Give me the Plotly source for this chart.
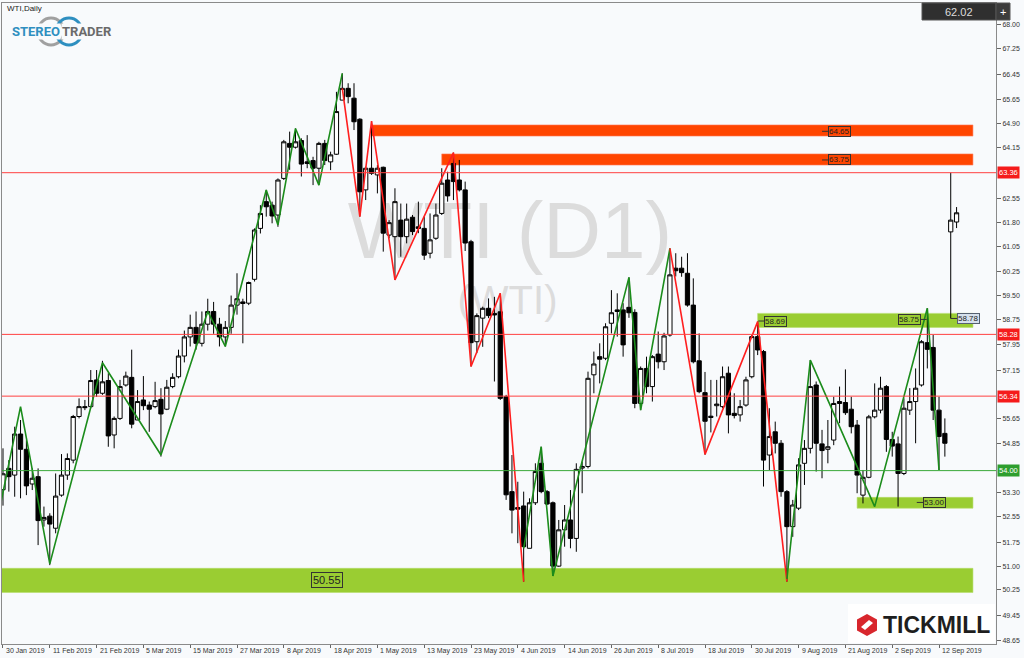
import plotly.graph_objects as go

# ---------------- DATA ----------------
bars = list(range(164))
opens = [53.40, 54.07, 53.86, 55.15, 54.67, 53.58, 53.81, 52.45, 52.57, 52.19,
         53.23, 53.86, 54.33, 55.70, 56.01, 56.01, 56.85, 56.43, 56.83, 55.12,
         55.64, 56.69, 56.93, 55.59, 56.22, 56.06, 56.01, 56.24, 55.93, 56.64,
         56.95, 57.60, 58.20, 58.50, 58.00, 58.60, 59.00, 58.60, 58.20, 58.50,
         59.20, 59.30, 59.26, 60.01, 61.61, 62.45, 62.34, 62.03, 63.18, 64.28,
         64.16, 64.37, 63.70, 63.74, 63.50, 64.28, 63.70, 63.94, 65.64, 66.01,
         65.70, 65.04, 62.82, 63.50, 63.29, 63.53, 61.40, 61.35, 61.87, 61.35,
         61.96, 61.66, 61.61, 60.83, 61.30, 62.08, 63.13, 63.65, 63.13, 62.82,
         61.19, 58.05, 58.79, 59.10, 58.94, 58.99, 56.32, 53.34, 52.84, 52.89,
         51.56, 52.99, 54.23, 53.34, 52.99, 51.00, 52.14, 52.45, 51.87, 54.08,
         54.13, 57.01, 57.58, 57.53, 58.63, 59.05, 59.05, 59.13, 58.97, 56.11,
         57.21, 56.64, 57.66, 57.42, 58.26, 60.36, 60.36, 60.20, 59.20, 57.45,
         56.45, 55.71, 56.04, 56.01, 57.06, 55.80, 55.75, 56.06, 56.95, 58.21,
         57.74, 54.49, 55.22, 54.86, 53.34, 52.24, 52.82, 54.23, 54.70, 56.69,
         54.84, 54.67, 54.96, 56.17, 56.14, 55.93, 55.43, 53.23, 53.79, 55.69,
         55.90, 56.64, 54.98, 54.84, 53.91, 55.90, 56.17, 56.69, 58.02, 57.87,
         55.90, 55.17, 61.50, 61.81]
highs = [54.70, 54.33, 55.38, 55.59, 54.96, 54.07, 54.07, 52.87, 52.66, 53.91,
         54.52, 54.54, 55.75, 56.27, 56.22, 57.16, 57.16, 57.45, 57.06, 55.70,
         56.85, 57.11, 57.80, 56.53, 56.97, 56.17, 56.79, 56.59, 56.85, 57.06,
         57.80, 58.40, 58.90, 59.00, 59.00, 59.40, 59.30, 58.80, 58.70, 59.50,
         60.20, 59.40, 59.94, 61.61, 62.34, 62.82, 62.45, 63.18, 64.39, 64.65,
         64.75, 64.44, 64.54, 63.86, 64.33, 64.39, 64.02, 65.90, 66.48, 66.17,
         66.17, 65.07, 63.55, 64.98, 63.60, 63.55, 61.87, 62.87, 62.39, 62.39,
         62.03, 62.45, 61.98, 62.08, 62.39, 63.50, 63.39, 63.99, 63.76, 63.08,
         61.25, 58.94, 59.15, 59.41, 59.46, 59.57, 56.38, 54.49, 53.65, 53.34,
         53.13, 54.23, 54.75, 53.39, 53.03, 52.45, 52.92, 53.39, 54.23, 54.28,
         57.11, 57.74, 58.00, 58.63, 59.67, 59.57, 59.26, 60.07, 59.07, 57.27,
         57.58, 57.63, 58.37, 58.33, 60.98, 60.83, 60.72, 60.83, 60.04, 58.31,
         57.10, 56.85, 56.85, 57.27, 57.27, 56.43, 56.22, 56.95, 58.26, 58.68,
         57.79, 55.96, 55.54, 54.96, 53.39, 53.08, 54.39, 54.96, 57.47, 56.80,
         55.28, 55.59, 56.32, 56.64, 57.18, 56.32, 55.59, 54.02, 55.75, 56.74,
         56.95, 56.69, 55.22, 55.07, 56.27, 56.59, 57.21, 58.10, 59.10, 58.26,
         56.32, 55.64, 63.36, 62.28]
lows = [52.90, 53.34, 53.18, 53.13, 53.23, 53.39, 51.66, 52.24, 51.03, 52.03,
        53.18, 53.71, 54.23, 55.64, 55.90, 55.96, 56.32, 56.38, 54.75, 54.70,
        55.59, 56.64, 55.33, 55.59, 55.90, 55.22, 55.96, 54.44, 55.90, 56.59,
        56.90, 57.40, 57.90, 57.80, 57.90, 58.40, 58.30, 57.90, 57.90, 58.30,
        58.90, 58.00, 59.20, 59.94, 61.45, 61.98, 61.77, 61.66, 63.13, 63.45,
        64.12, 63.24, 63.50, 62.97, 62.97, 63.60, 63.44, 63.92, 65.64, 65.54,
        64.70, 61.98, 62.50, 63.29, 62.71, 60.88, 61.30, 59.99, 60.72, 61.14,
        61.40, 61.46, 60.62, 60.67, 61.25, 62.03, 62.45, 62.50, 62.77, 60.90,
        57.27, 57.69, 57.89, 58.79, 56.80, 56.22, 53.08, 52.03, 51.72, 50.51,
        51.56, 52.92, 53.29, 52.92, 50.69, 50.98, 51.61, 51.56, 51.45, 53.29,
        54.07, 56.43, 56.74, 57.47, 58.31, 58.21, 57.58, 58.80, 55.96, 55.90,
        56.43, 56.17, 57.21, 57.16, 58.21, 60.10, 60.09, 59.15, 57.37, 56.43,
        54.50, 55.20, 55.70, 55.96, 55.17, 55.64, 55.54, 56.01, 56.90, 57.63,
        53.50, 54.02, 54.54, 53.18, 50.51, 51.92, 52.76, 53.55, 54.54, 53.97,
        53.76, 54.23, 54.80, 55.49, 55.75, 55.17, 53.29, 52.97, 53.76, 55.64,
        55.80, 54.59, 54.44, 52.87, 53.86, 55.75, 54.86, 56.64, 57.21, 55.59,
        54.02, 54.44, 58.78, 61.62]
closes = [53.90, 53.81, 55.15, 54.67, 53.52, 53.76, 52.43, 52.53, 52.32, 53.20,
          53.86, 54.38, 55.70, 56.01, 55.98, 56.83, 56.43, 56.79, 55.09, 55.64,
          56.64, 56.97, 55.46, 56.17, 56.04, 55.93, 56.20, 55.78, 56.62, 56.93,
          57.60, 58.20, 58.50, 58.00, 58.60, 59.00, 58.60, 58.20, 58.50, 59.20,
          59.40, 59.25, 59.91, 61.56, 62.08, 62.29, 62.00, 63.13, 64.33, 64.16,
          64.33, 63.63, 63.65, 63.50, 64.28, 63.74, 63.92, 65.28, 66.01, 65.75,
          64.96, 62.76, 63.50, 63.34, 63.50, 61.46, 61.79, 62.45, 61.35, 61.90,
          61.51, 61.61, 60.77, 61.25, 62.03, 63.03, 62.63, 63.08, 62.82, 61.15,
          58.02, 58.87, 59.10, 58.87, 58.89, 56.27, 53.24, 52.76, 52.79, 51.61,
          52.99, 53.97, 53.34, 52.95, 51.00, 52.14, 52.45, 51.87, 54.04, 54.13,
          56.90, 57.35, 57.50, 58.52, 58.96, 59.00, 57.95, 58.96, 56.11, 57.21,
          56.64, 57.58, 57.42, 58.23, 60.15, 60.28, 60.22, 59.20, 57.42, 56.48,
          55.55, 55.67, 56.09, 56.95, 55.75, 55.73, 56.01, 56.85, 58.21, 57.79,
          54.33, 55.07, 54.86, 53.34, 52.24, 52.92, 54.18, 54.70, 56.64, 54.86,
          54.63, 54.75, 56.11, 56.11, 55.82, 55.38, 53.86, 53.79, 55.69, 55.90,
          56.59, 54.98, 54.77, 53.91, 55.96, 56.17, 56.59, 58.05, 57.81, 55.90,
          55.07, 54.86, 61.87, 62.10]

date_tick_bars = [0, 8, 16, 24, 32, 40, 48, 56, 64, 72, 80, 88, 96, 104, 112,
                  120, 128, 136, 144, 152, 160]
date_tick_labels = ["30 Jan 2019", "11 Feb 2019", "21 Feb 2019", "5 Mar 2019",
                    "15 Mar 2019", "27 Mar 2019", "8 Apr 2019", "18 Apr 2019",
                    "1 May 2019", "13 May 2019", "23 May 2019", "4 Jun 2019",
                    "14 Jun 2019", "26 Jun 2019", "8 Jul 2019", "18 Jul 2019",
                    "30 Jul 2019", "9 Aug 2019", "21 Aug 2019", "2 Sep 2019",
                    "12 Sep 2019"]
price_ticks = [68.00, 67.25, 66.45, 65.65, 64.90, 64.15, 62.55, 61.80, 61.05,
               60.25, 59.50, 58.75, 57.95, 57.15, 55.65, 54.85, 53.30, 52.55,
               51.75, 51.00, 50.25, 49.45, 48.65]

# zigzag trend lines (bar, price)
green_zz_1_bars = [-0.5, 3, 8, 17, 27, 35, 38, 45, 47, 50, 54, 58]
green_zz_1_px = [52.87, 56.01, 51.07, 57.39, 54.49, 59.0, 57.9, 62.82, 61.72, 64.75, 62.97, 66.48]
red_zz_1_bars = [58, 61, 63, 67, 77, 80, 85, 89]
red_zz_1_px = [66.01, 61.98, 64.98, 59.99, 63.99, 57.27, 59.57, 50.51]
green_zz_2_bars = [89, 92, 94, 107, 109, 114]
green_zz_2_px = [51.56, 54.75, 50.69, 60.07, 55.90, 60.98]
red_zz_2_bars = [114, 120, 129, 134]
red_zz_2_px = [60.98, 54.51, 58.68, 50.51]
green_zz_3_bars = [134, 138, 149, 158, 160]
green_zz_3_px = [50.60, 57.47, 52.87, 59.10, 54.02]

# horizontal levels
red_levels = [63.36, 58.28, 56.34]
green_levels = [54.00]

# zones: (start bar, low, high)
resistance_zones = [(63, 64.51, 64.86), (75, 63.60, 63.95)]
support_zones = [(129, 58.50, 58.94), (146, 52.82, 53.16), (-1, 50.17, 50.93)]
zone_end_bar = 165.8

# price labels: (text, bar, price)
zone_labels = [("64.65", 143.0, 64.66), ("63.75", 143.0, 63.76), ("58.69", 132.1, 58.70),
               ("58.75", 154.9, 58.75), ("53.00", 159.2, 53.00)]
big_zone_label = ("50.55", 55.3, 50.55)
last_label = ("58.78", 165.0, 58.78)
current_price = "62.02"

# ---------------- LAYOUT HELPERS ----------------
W, H = 1024, 658
L, R, T, B = 2, 28, 3, 14
def PX(x):
    return (x - L) / (W - L - R)
def PY(y):
    return (H - B - y) / (H - T - B)

BG = "#f8fafc"
FONT = "Liberation Sans, Arial, sans-serif"

fig = go.Figure()

fig.add_trace(go.Candlestick(
    x=bars, open=opens, high=highs, low=lows, close=closes,
    increasing=dict(line=dict(color="#000000", width=1), fillcolor="#ffffff"),
    decreasing=dict(line=dict(color="#000000", width=1), fillcolor="#000000"),
    whiskerwidth=0, hoverinfo="skip", showlegend=False))

for bx, py_, col in [(green_zz_1_bars, green_zz_1_px, "#1b8c1b"),
                     (red_zz_1_bars, red_zz_1_px, "#ff1f1f"),
                     (green_zz_2_bars, green_zz_2_px, "#1b8c1b"),
                     (red_zz_2_bars, red_zz_2_px, "#ff1f1f"),
                     (green_zz_3_bars, green_zz_3_px, "#1b8c1b")]:
    fig.add_trace(go.Scatter(x=bx, y=py_, mode="lines",
                             line=dict(color=col, width=1.6),
                             hoverinfo="skip", showlegend=False))

shapes = []
annotations = []

# watermark
shapes.append(dict(type="rect", xref="paper", yref="paper",
                   x0=PX(300), x1=PX(720), y0=PY(270), y1=PY(175),
                   line=dict(width=0), fillcolor="rgba(0,0,0,0)", layer="below",
                   label=dict(text="WTI (D1)", textposition="middle center",
                              font=dict(size=80, color="#dcdcdc", family=FONT))))
shapes.append(dict(type="rect", xref="paper", yref="paper",
                   x0=PX(435), x1=PX(580), y0=PY(320), y1=PY(272),
                   line=dict(width=0), fillcolor="rgba(0,0,0,0)", layer="below",
                   label=dict(text="(WTI)", textposition="middle center",
                              font=dict(size=40, color="#dcdcdc", family=FONT))))

# zones
for b0, lo, hi in resistance_zones:
    shapes.append(dict(type="rect", xref="x", yref="y", x0=b0, x1=zone_end_bar,
                       y0=lo, y1=hi, fillcolor="#ff4500",
                       line=dict(width=0.6, color="#ff8060"), layer="below"))
for b0, lo, hi in support_zones:
    shapes.append(dict(type="rect", xref="x", yref="y", x0=b0, x1=zone_end_bar,
                       y0=lo, y1=hi, fillcolor="#9acd32",
                       line=dict(width=0.6, color="#b5dd6a"), layer="below"))

# horizontal levels
for lv in red_levels:
    shapes.append(dict(type="line", xref="paper", yref="y", x0=0, x1=1, y0=lv, y1=lv,
                       line=dict(color="#ff4040", width=1)))
    annotations.append(dict(xref="paper", yref="y", x=1, y=lv, xanchor="left",
                            yanchor="middle", xshift=1, text=f"{lv:.2f}", showarrow=False,
                            bgcolor="#f51b1b", borderpad=1,
                            font=dict(size=7.5, color="#ffffff", family=FONT)))
for lv in green_levels:
    shapes.append(dict(type="line", xref="paper", yref="y", x0=0, x1=1, y0=lv, y1=lv,
                       line=dict(color="#3aa83a", width=1)))
    annotations.append(dict(xref="paper", yref="y", x=1, y=lv, xanchor="left",
                            yanchor="middle", xshift=1, text=f"{lv:.2f}", showarrow=False,
                            bgcolor="#2e9e2e", borderpad=1,
                            font=dict(size=7.5, color="#ffffff", family=FONT)))

# zone price labels
for txt, b, p in zone_labels:
    annotations.append(dict(xref="x", yref="y", x=b, y=p, text=txt, showarrow=False,
                            xanchor="center", yanchor="middle",
                            bordercolor="#333333", borderwidth=1, borderpad=0,
                            font=dict(size=8, color="#222222", family=FONT)))
    if txt == "58.75":
        shapes.append(dict(type="line", xref="x", yref="y", x0=b + 1.9, x1=b + 3.0,
                           y0=p, y1=p, line=dict(color="#333333", width=1)))
    else:
        shapes.append(dict(type="line", xref="x", yref="y", x0=b - 3.0, x1=b - 1.9,
                           y0=p, y1=p, line=dict(color="#333333", width=1)))
annotations.append(dict(xref="x", yref="y", x=big_zone_label[1], y=big_zone_label[2],
                        text=big_zone_label[0], showarrow=False, bordercolor="#333333",
                        xanchor="center", yanchor="middle",
                        borderwidth=1, borderpad=1,
                        font=dict(size=11, color="#222222", family=FONT)))
annotations.append(dict(xref="x", yref="y", x=last_label[1], y=last_label[2],
                        text=last_label[0], showarrow=False, bordercolor="#556070",
                        xanchor="center", yanchor="middle",
                        borderwidth=1, borderpad=0, bgcolor="#d5e0ec",
                        font=dict(size=8, color="#222222", family=FONT)))
shapes.append(dict(type="line", xref="x", yref="y", x0=162, x1=last_label[1] - 1.9,
                   y0=last_label[2], y1=last_label[2], line=dict(color="#333333", width=1)))

# date labels (left-aligned next to each tick)
for b, lab in zip(date_tick_bars, date_tick_labels):
    annotations.append(dict(xref="x", yref="paper", x=b, y=0, xanchor="left", yanchor="top",
                            xshift=1, yshift=-1, text=lab, showarrow=False,
                            font=dict(size=7, color="#333333", family=FONT)))

# title
annotations.append(dict(xref="paper", yref="paper", x=PX(5), y=PY(8), xanchor="left",
                        yanchor="middle", text="WTI,Daily", showarrow=False,
                        font=dict(size=8, color="#222222", family=FONT)))

# StereoTrader logo
shapes.append(dict(type="circle", xref="paper", yref="paper", x0=PX(38), x1=PX(64),
                   y0=PY(45), y1=PY(18), line=dict(color="#a0a0a0", width=3)))
shapes.append(dict(type="circle", xref="paper", yref="paper", x0=PX(56), x1=PX(82),
                   y0=PY(45), y1=PY(18), line=dict(color="#2e8fc0", width=3)))
annotations.append(dict(xref="paper", yref="paper", x=PX(61), y=PY(31.5), xanchor="right",
                        yanchor="middle", text="<b>STEREO</b>", showarrow=False,
                        bgcolor=BG, borderpad=0,
                        font=dict(size=13, color="#2e8fc0", family="Roboto")))
annotations.append(dict(xref="paper", yref="paper", x=PX(61), y=PY(31.5), xanchor="left",
                        yanchor="middle", text="<b>TRADER</b>", showarrow=False,
                        bgcolor=BG, borderpad=0,
                        font=dict(size=13, color="#6a6a6a", family="Roboto")))

# current price box top right
shapes.append(dict(type="rect", xref="paper", yref="paper", x0=PX(922), x1=PX(996),
                   y0=PY(20), y1=PY(3), fillcolor="#2f2f2f", line=dict(color="#555", width=1)))
shapes.append(dict(type="rect", xref="paper", yref="paper", x0=PX(996), x1=PX(1010),
                   y0=PY(20), y1=PY(3), fillcolor="#3c3c3c", line=dict(color="#555", width=1)))
annotations.append(dict(xref="paper", yref="paper", x=PX(959), y=PY(11.5), text=current_price,
                        xanchor="center", yanchor="middle",
                        showarrow=False, font=dict(size=11, color="#dddddd", family=FONT)))
annotations.append(dict(xref="paper", yref="paper", x=PX(1003), y=PY(11.5), text="+",
                        xanchor="center", yanchor="middle",
                        showarrow=False, font=dict(size=11, color="#ffffff", family=FONT)))

# Tickmill logo
shapes.append(dict(type="rect", xref="paper", yref="paper", x0=PX(848), x1=PX(995),
                   y0=PY(643), y1=PY(604), fillcolor="#ffffff", line=dict(width=0)))
hexpts = [(867, 614), (877, 619.5), (877, 630.5), (867, 636), (857, 630.5), (857, 619.5)]
path = "M " + " L ".join(f"{PX(a):.5f},{PY(b):.5f}" for a, b in hexpts) + " Z"
shapes.append(dict(type="path", xref="paper", yref="paper", path=path,
                   fillcolor="#d8262d", line=dict(width=0)))
cut = [(861, 627), (869, 620), (873, 623), (865, 630)]
path2 = "M " + " L ".join(f"{PX(a):.5f},{PY(b):.5f}" for a, b in cut) + " Z"
shapes.append(dict(type="path", xref="paper", yref="paper", path=path2,
                   fillcolor="#ffffff", line=dict(width=0)))
annotations.append(dict(xref="paper", yref="paper", x=PX(881), y=PY(625), xanchor="left",
                        yanchor="middle", text="<b>TICKMILL</b>", showarrow=False,
                        font=dict(size=23, color="#1e1e1e", family=FONT)))

fig.update_layout(
    width=W, height=H,
    margin=dict(l=L, r=R, t=T, b=B, autoexpand=False),
    paper_bgcolor=BG, plot_bgcolor=BG,
    shapes=shapes, annotations=annotations,
    showlegend=False, hovermode=False,
    boxgap=0.15, boxgroupgap=0.15,
    xaxis=dict(range=[-0.17, 169.74], rangeslider=dict(visible=False), automargin=False,
               showgrid=False, zeroline=False, showline=True, linecolor="#8a8a8a",
               mirror=True, ticks="outside", ticklen=3, tickcolor="#666666",
               tickvals=date_tick_bars, showticklabels=False),
    yaxis=dict(range=[48.553, 68.691], side="right", showgrid=False, zeroline=False,
               automargin=False,
               showline=True, linecolor="#8a8a8a", mirror=True,
               ticks="outside", ticklen=4, tickcolor="#666666",
               tickvals=price_ticks, ticktext=[f"{v:.2f}" for v in price_ticks],
               tickfont=dict(size=7, color="#333333", family=FONT)),
)

fig.write_html("out.html", config={"displayModeBar": False},
               post_script="document.body.style.margin='0';document.body.style.padding='0';document.body.style.overflow='hidden';document.body.style.background='#f8fafc';")
